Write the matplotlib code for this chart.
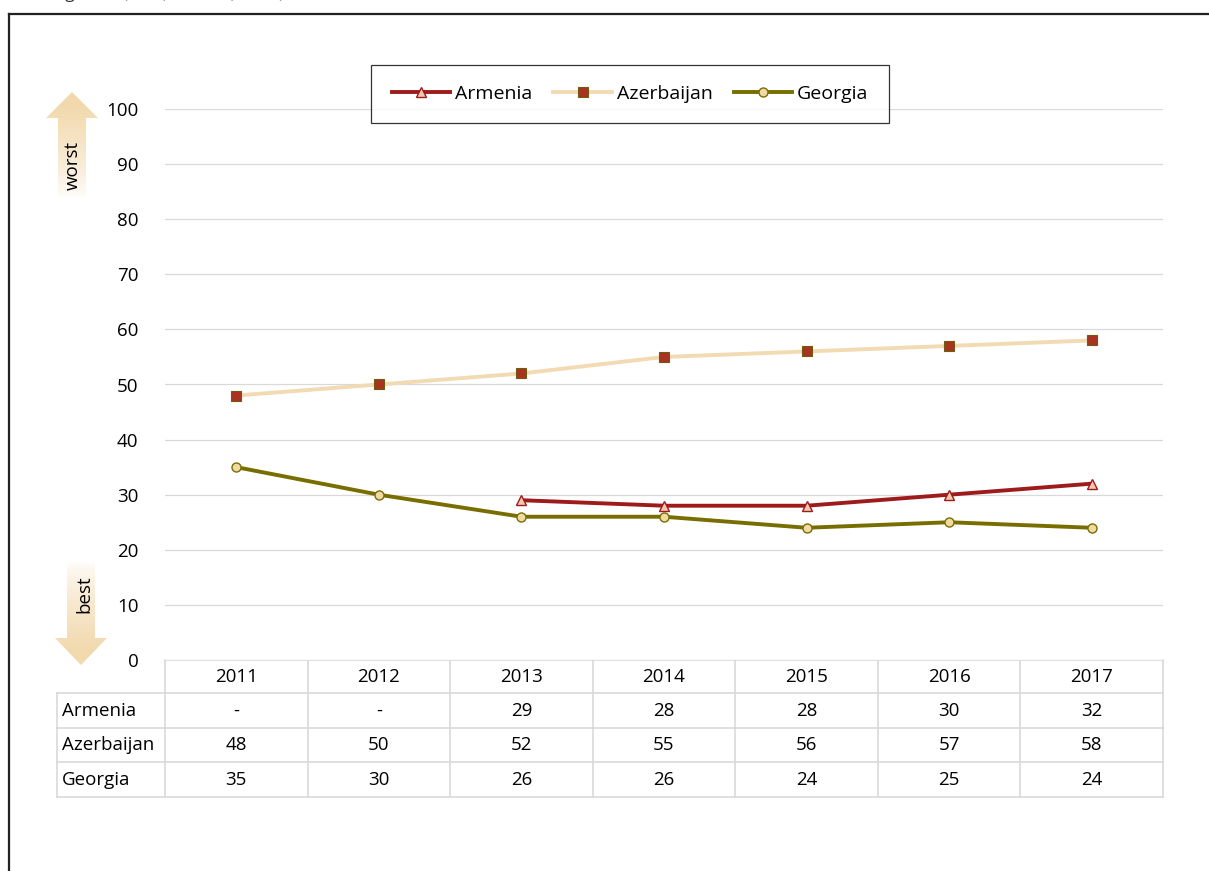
import matplotlib
matplotlib.use("Agg")
import matplotlib.pyplot as plt
import numpy as np
from matplotlib.patches import Polygon
from matplotlib.lines import Line2D
import matplotlib.transforms as mtransforms

plt.rcParams['font.family'] = ['Open Sans', 'DejaVu Sans']

years = ['2011', '2012', '2013', '2014', '2015', '2016', '2017']
countries = ['Armenia', 'Azerbaijan', 'Georgia']
armenia = [np.nan, np.nan, 29, 28, 28, 30, 32]
azerbaijan = [48, 50, 52, 55, 56, 57, 58]
georgia = [35, 30, 26, 26, 24, 25, 24]
yticks = [0, 10, 20, 30, 40, 50, 60, 70, 80, 90, 100]

W, H = 1209, 871
fig = plt.figure(figsize=(W / 100, H / 100), dpi=100)

def fx(px):
    return px / W

def fy(py):
    return 1 - py / H

FS = 13.5

ax = fig.add_axes([fx(165), fy(660), fx(1163) - fx(165), fy(109) - fy(660)])
x = np.arange(len(years))
ax.set_xlim(-0.5, len(years) - 0.5)
ax.set_ylim(0, 100)
ax.set_yticks(yticks)
ax.set_xticks([])
ax.tick_params(axis='y', length=0, pad=19, labelsize=FS)
for s in ax.spines.values():
    s.set_visible(False)
ax.grid(axis='y', color='#d9d9d9', linewidth=0.9)
ax.set_axisbelow(True)

arm_c = '#9e1b1b'
aze_c = '#f2dbb2'
geo_c = '#786e00'
ax.plot(x, armenia, color=arm_c, lw=2.8, marker='^', ms=6.5,
        mfc='#f3c8b2', mec=arm_c, mew=1.0, label='Armenia', zorder=3)
ax.plot(x, azerbaijan, color=aze_c, lw=2.8, marker='s', ms=6.5,
        mfc='#a83320', mec='#6e5a10', mew=0.8, label='Azerbaijan', zorder=3)
ax.plot(x, georgia, color=geo_c, lw=2.8, marker='o', ms=6.5,
        mfc='#f0d9a2', mec=geo_c, mew=1.0, label='Georgia', zorder=3)

leg = ax.legend(loc='center', bbox_to_anchor=(fx(630), fy(94)),
                bbox_transform=fig.transFigure, ncol=3, frameon=True,
                fontsize=14, fancybox=False, edgecolor='black',
                handlelength=3.0, columnspacing=1.1, handletextpad=0.25,
                borderpad=1.05, borderaxespad=0)
leg.get_frame().set_linewidth(0.9)

# overlay in pixel coordinates
ov = fig.add_axes([0, 0, 1, 1], zorder=-1)
ov.set_xlim(0, W)
ov.set_ylim(H, 0)
ov.axis('off')

# frame
ov.add_line(Line2D([9, 9], [14, H], color='#222222', lw=1.6))
ov.add_line(Line2D([9, W], [14, 14], color='#222222', lw=1.6))

# cropped title (cut off at the top edge, as in the reference)
fig.text(fx(10), fy(-6), 'Rankings of 1 (best) to 100 (worst)', fontsize=12.5,
         ha='left', va='center', color='#333333')

# gradient arrows
def grad_arrow(poly, fade_bottom):
    xs = [p[0] for p in poly]
    ys = [p[1] for p in poly]
    x0, x1, y0, y1 = min(xs), max(xs), min(ys), max(ys)
    n = 100
    g = np.linspace(0, 1, n)
    if fade_bottom:
        alpha = np.clip(1.15 - g * 1.15, 0, 1) ** 0.7
    else:
        alpha = np.clip(g * 1.15, 0, 1) ** 0.7
    base = np.array(matplotlib.colors.to_rgb('#f2d9ad'))
    img = np.ones((n, 1, 4))
    img[:, 0, :3] = base
    img[:, 0, 3] = alpha
    im = ov.imshow(img, extent=[x0, x1, y1, y0], aspect='auto', zorder=1,
                   interpolation='bilinear')
    pg = Polygon(poly, closed=True, facecolor='none', edgecolor='none')
    ov.add_patch(pg)
    im.set_clip_path(pg)

up = [(72, 92), (98, 118), (86, 118), (86, 198), (58, 198), (58, 118), (46, 118)]
grad_arrow(up, fade_bottom=True)
down = [(81, 665), (107, 638), (95, 638), (95, 561), (67, 561), (67, 638), (55, 638)]
grad_arrow(down, fade_bottom=False)
ov.text(73, 165, 'worst', rotation=90, ha='center', va='center', fontsize=FS, zorder=2)
ov.text(84, 594, 'best', rotation=90, ha='center', va='center', fontsize=FS, zorder=2)

# data table below axis
tr = mtransforms.blended_transform_factory(ax.transData, ov.transData)
gc = '#d9d9d9'
row_y = [660, 693, 728, 762, 797]
for i in range(len(years) + 1):
    ov.add_line(Line2D([i - 0.5, i - 0.5], [row_y[0], row_y[-1]], color=gc,
                       lw=1.2, transform=tr))
ov.add_line(Line2D([57, 57], [row_y[1], row_y[-1]], color=gc, lw=1.2))
ov.add_line(Line2D([165, 1163], [row_y[0], row_y[0]], color=gc, lw=1.2))
for yy in row_y[1:]:
    ov.add_line(Line2D([57, 1163], [yy, yy], color=gc, lw=1.2))

for i, yr in enumerate(years):
    ov.text(i, (row_y[0] + row_y[1]) / 2, yr, ha='center', va='center',
            fontsize=FS, transform=tr)

series = [armenia, azerbaijan, georgia]
for r, (name, vals) in enumerate(zip(countries, series)):
    yc = (row_y[r + 1] + row_y[r + 2]) / 2
    ov.text(62, yc, name, ha='left', va='center', fontsize=FS)
    for i, v in enumerate(vals):
        s = '-' if np.isnan(v) else f'{int(v)}'
        ov.text(i, yc, s, ha='center', va='center', fontsize=FS, transform=tr)

fig.savefig('out.png', dpi=100)
